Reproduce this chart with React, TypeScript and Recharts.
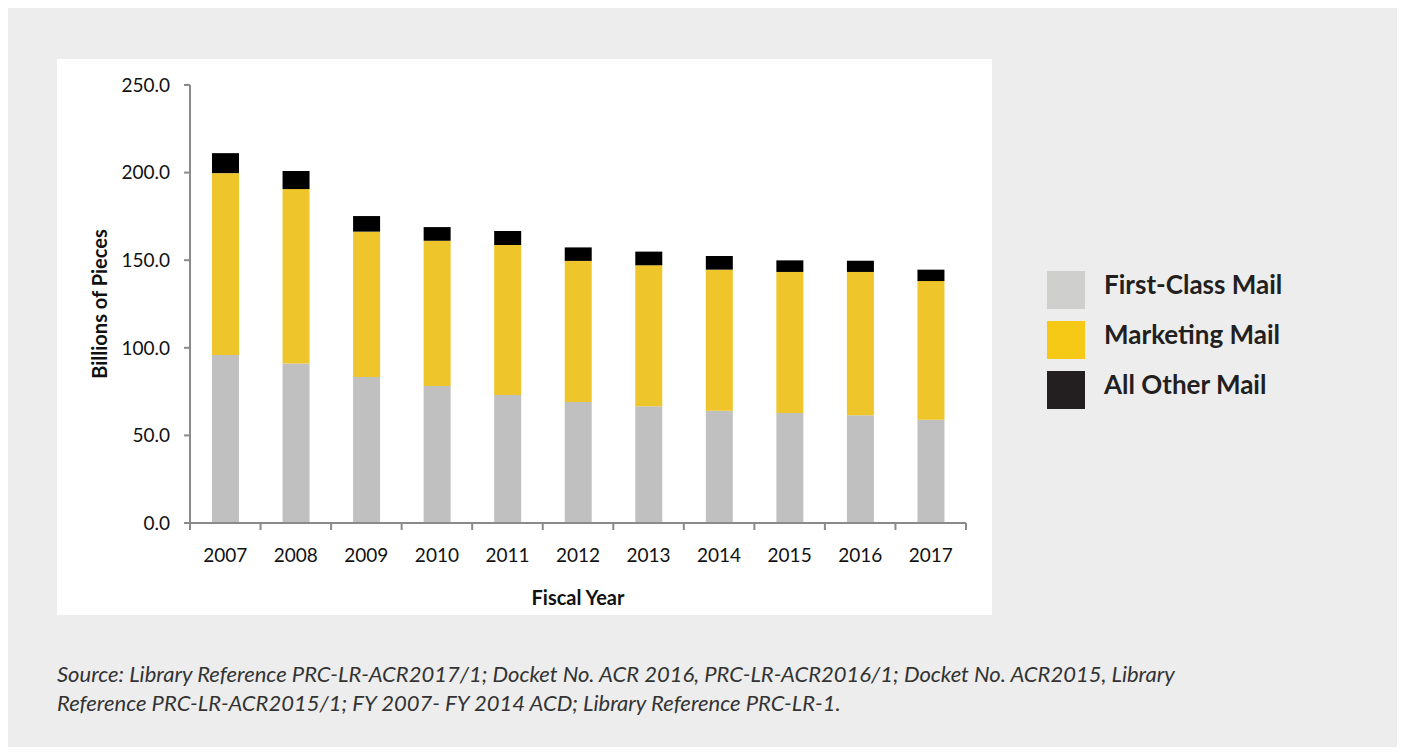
import { Bar, BarChart, Label, Legend, XAxis, YAxis } from "recharts";

const YEARS = ["2007", "2008", "2009", "2010", "2011", "2012", "2013", "2014", "2015", "2016", "2017"];
const FIRST_CLASS = [95.9, 91.1, 83.3, 78.2, 73.1, 69.1, 66.6, 64.1, 62.8, 61.5, 59.0];
const MARKETING = [103.8, 99.5, 83.0, 82.9, 85.6, 80.5, 80.5, 80.5, 80.5, 81.8, 79.1];
const ALL_OTHER = [11.4, 10.3, 8.9, 7.8, 8.0, 7.7, 7.8, 7.8, 6.6, 6.4, 6.5];
const Y_TICKS = [0, 50, 100, 150, 200, 250];

const SERIES = [
  { key: "firstClass", name: "First-Class Mail", fill: "#C0C0C0", swatch: "#CFCFCD" },
  { key: "marketing", name: "Marketing Mail", fill: "#EEC52A", swatch: "#F5C916" },
  { key: "allOther", name: "All Other Mail", fill: "#000000", swatch: "#231F20" },
];

const data = YEARS.map((year, i) => ({
  year,
  firstClass: FIRST_CLASS[i],
  marketing: MARKETING[i],
  allOther: ALL_OTHER[i],
}));

const FONT = "Lato, 'Open Sans', sans-serif";
const AXIS = "#8A8A8A";
const W = 1392;
const H = 747;
const MARGIN = { top: 77, right: 434, bottom: 142, left: 70 };
const PLOT_W = W - MARGIN.left - 112 - MARGIN.right;
const HALF_STEP = PLOT_W / YEARS.length / 2;
const TICK_GAP = 26;

function YearTick(props: any) {
  const { x, y, payload, index } = props;
  const axisY = y - TICK_GAP;
  return (
    <g>
      <line x1={x - HALF_STEP} x2={x - HALF_STEP} y1={axisY} y2={axisY + 7} stroke={AXIS} strokeWidth={2} />
      {index === YEARS.length - 1 && (
        <line x1={x + HALF_STEP} x2={x + HALF_STEP} y1={axisY} y2={axisY + 7} stroke={AXIS} strokeWidth={2} />
      )}
      <text x={x} y={y} dy="0.71em" textAnchor="middle" fontSize={19} fill="#111" fontFamily={FONT}>
        {payload.value}
      </text>
    </g>
  );
}

function LegendBox() {
  return (
    <div style={{ fontFamily: FONT }}>
      {SERIES.map((s) => (
        <div key={s.key} style={{ display: "flex", alignItems: "center", height: 50 }}>
          <div style={{ width: 38, height: 38, background: s.swatch }} />
          <span
            style={{ marginLeft: 19, fontSize: 26, fontWeight: 700, color: "#231F20", position: "relative", top: -6 }}
          >
            {s.name}
          </span>
        </div>
      ))}
    </div>
  );
}

export default function App() {
  return (
    <div style={{ position: "relative", width: W, height: H, marginBottom: -8, background: "#EDEDED" }}>
      <div style={{ position: "absolute", left: 49, top: 51, width: 935, height: 556, background: "#FFFFFF" }} />
      <div style={{ position: "absolute", left: 0, top: 0 }}>
        <BarChart width={W} height={H} data={data} margin={MARGIN} style={{ fontFamily: FONT }}>
          <YAxis
            width={112}
            domain={[0, 250]}
            ticks={Y_TICKS}
            interval={0}
            tickFormatter={(v: number) => v.toFixed(1)}
            tickSize={6}
            tickMargin={14}
            tick={{ fontSize: 19, fill: "#111", fontFamily: FONT }}
            axisLine={{ stroke: AXIS, strokeWidth: 2 }}
            tickLine={{ stroke: AXIS, strokeWidth: 2 }}
          >
            <Label
              value="Billions of Pieces"
              angle={-90}
              position="insideLeft"
              offset={22}
              style={{ textAnchor: "middle", fontSize: 20, fontWeight: 700, fill: "#111", fontFamily: FONT }}
            />
          </YAxis>
          <XAxis
            dataKey="year"
            height={90}
            interval={0}
            tickSize={0}
            tickMargin={TICK_GAP}
            tick={<YearTick />}
            tickLine={false}
            axisLine={{ stroke: AXIS, strokeWidth: 2 }}
          >
            <Label
              value="Fiscal Year"
              position="insideBottom"
              offset={8}
              style={{ fontSize: 20, fontWeight: 700, fill: "#111", fontFamily: FONT }}
            />
          </XAxis>
          <Legend
            layout="horizontal"
            align="center"
            verticalAlign="middle"
            wrapperStyle={{ left: 1039, top: 257, width: 340 }}
            content={() => <LegendBox />}
          />
          {SERIES.map((s) => (
            <Bar key={s.key} dataKey={s.key} name={s.name} stackId="mail" fill={s.fill} barSize={27} isAnimationActive={false} />
          ))}
        </BarChart>
      </div>
      <div
        style={{
          position: "absolute",
          left: 49,
          top: 651,
          fontFamily: FONT,
          fontStyle: "italic",
          fontSize: 22,
          lineHeight: "29px",
          color: "#333",
          whiteSpace: "nowrap",
        }}
      >
        Source: Library Reference PRC-LR-ACR2017/1; Docket No. ACR 2016, PRC-LR-ACR2016/1; Docket No. ACR2015, Library
        <br />
        Reference PRC-LR-ACR2015/1; FY 2007- FY 2014 ACD; Library Reference PRC-LR-1.
      </div>
    </div>
  );
}
